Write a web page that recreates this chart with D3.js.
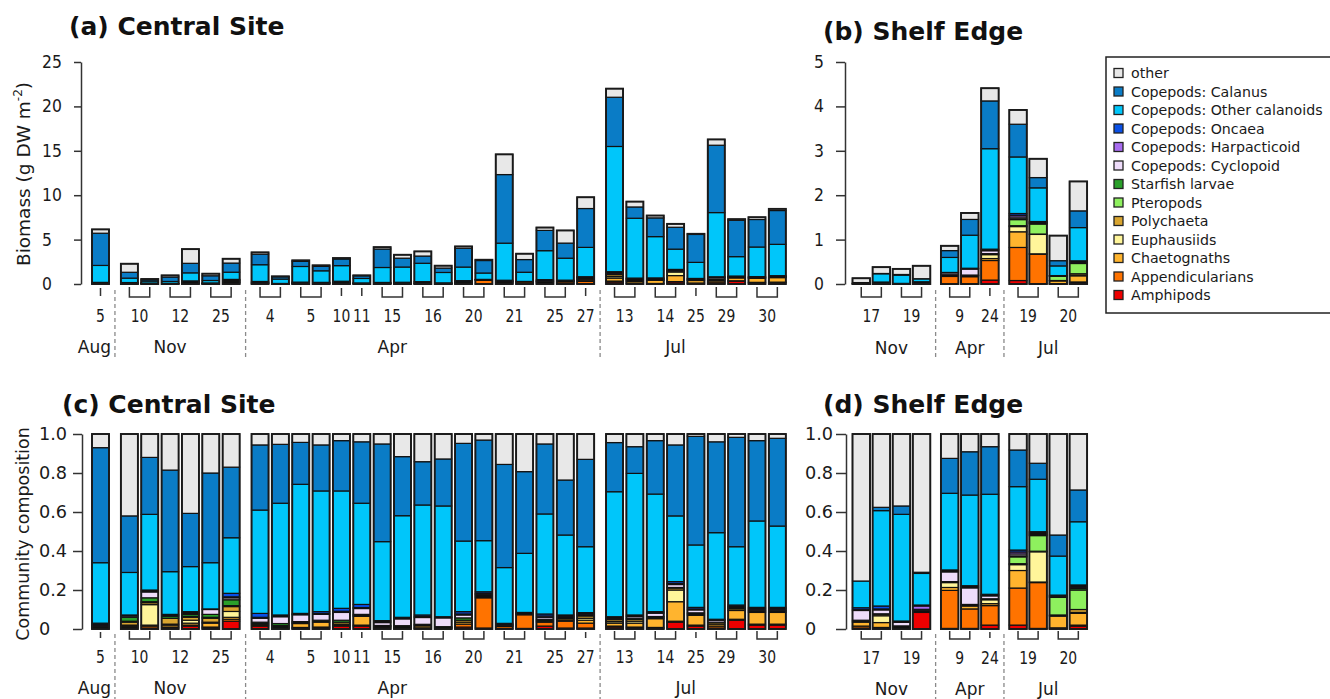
<!DOCTYPE html>
<html><head><meta charset="utf-8">
<script src="https://cdn.jsdelivr.net/npm/d3@7"></script>
<style>body{margin:0;background:#fff;} svg{display:block;font-family:"DejaVu Sans",Verdana,sans-serif;}</style>
</head><body><svg id="chart" width="1330" height="699"></svg>
<script>
// ---------------- DATA ----------------
const categories = ["Amphipods","Appendicularians","Chaetognaths","Euphausiids","Polychaeta","Pteropods","Starfish larvae","Copepods: Cyclopoid","Copepods: Harpacticoid","Copepods: Oncaea","Copepods: Other calanoids","Copepods: Calanus","other"];
const catColors = ["#ee0000","#ff7300","#ffb42e","#fff59a","#d9a530","#8ef05e","#2aa02a","#eedcfa","#a86cf0","#0a50e6","#00c6fa","#0a7cc6","#e8e8e8"];

// Central site samples (bars)
const centralMonth = ["Aug","Nov","Nov","Nov","Nov","Nov","Nov","Apr","Apr","Apr","Apr","Apr","Apr","Apr","Apr","Apr","Apr","Apr","Apr","Apr","Apr","Apr","Apr","Apr","Jul","Jul","Jul","Jul","Jul","Jul","Jul","Jul","Jul"];
const centralDay = ["5","10","10","12","12","25","25","4","4","5","5","10","11","15","15","16","16","20","20","21","21","25","25","27","13","13","14","14","25","29","29","30","30"];
const centralTotal = [6.15,2.28,0.56,0.97,3.93,1.16,2.84,3.56,0.86,2.66,2.1,2.92,0.97,4.15,3.29,3.67,2.06,4.23,2.73,14.6,3.41,6.36,6.03,9.77,22.0,9.28,7.71,6.77,5.65,16.28,7.3,7.52,8.46];
// proportions (community composition)
const cAmphipods = [.005,.005,.005,.005,.015,.005,.04,.015,.003,.003,.005,.015,.015,.005,.003,.003,.002,.01,.005,.003,.003,.015,.005,.005,.01,.005,.003,.035,.015,.005,.045,.02,.02];
const cAppendicularians = [0,.005,.01,.005,.005,.005,.01,.005,.005,.005,.005,.005,.005,.005,.005,.003,.003,.015,.155,.01,.07,.02,.035,.025,.005,.005,.005,.005,.005,.01,.005,.005,.005];
const cChaetognaths = [0,.005,.005,.01,.01,.02,.01,.005,.005,.02,.025,.005,.045,.003,.003,.01,.003,.01,.005,.003,.003,.005,.005,.015,.015,.02,.045,.1,.05,.01,.045,.06,.06];
const cEuphausiids = [0,.005,.105,.005,.015,.005,.03,0,0,0,0,0,0,0,0,0,0,0,.005,0,0,0,0,.01,.008,.01,.003,.06,.005,0,.003,.003,.003];
const cPolychaeta = [.005,.015,.01,.03,.015,.02,.025,.005,.005,.005,.005,.01,.005,.003,.003,.005,.002,.01,.005,.003,.002,.005,.008,.012,.01,.01,.005,.01,.005,.008,.008,.005,.005];
const cPteropods = [0,.005,.005,0,.005,.005,.005,0,0,0,0,0,0,0,0,0,0,0,0,0,0,0,0,0,0,0,0,0,0,0,0,0,0];
const cStarfish = [.005,.02,.02,.01,.01,.015,.03,.005,.01,.005,.005,.01,.005,.002,.003,.003,.002,.012,.003,0,0,.005,.005,.005,.003,.003,.003,.003,.003,.002,.003,.003,.003];
const cCyclopoid = [.005,.007,.03,.005,.005,.025,.01,.02,.035,.035,.03,.04,.03,.015,.035,.035,.045,.015,.003,.003,.002,.01,.004,.004,.004,.01,.017,.015,.015,.01,.004,.006,.006];
const cHarpacticoid = [.005,0,.005,0,.004,0,.005,.005,.004,.002,.004,.006,.005,.005,.003,.005,.003,.005,.002,.002,.002,.007,.004,.003,.004,.004,.003,.005,.005,.002,.003,.004,.004];
const cOncaea = [.005,.005,.005,.005,.005,.003,.018,.02,.005,.005,.01,.015,.016,.005,.005,.008,.003,.012,.008,.005,.003,.01,.006,.005,.004,.005,.005,.01,.008,.003,.007,.005,.005];
const cOtherCalanoids = [.31,.218,.388,.219,.231,.237,.285,.53,.573,.662,.619,.602,.519,.405,.521,.564,.568,.362,.262,.286,.303,.513,.41,.338,.641,.726,.603,.337,.32,.444,.299,.443,.417];
const cCalanus = [.59,.29,.292,.521,.273,.46,.362,.334,.302,.215,.236,.258,.315,.501,.303,.222,.241,.501,.516,.529,.419,.359,.282,.448,.252,.137,.274,.364,.557,.466,.561,.412,.45];
const cOther = [.07,.42,.12,.185,.407,.2,.17,.056,.053,.043,.056,.034,.04,.051,.116,.142,.128,.048,.031,.156,.193,.051,.236,.13,.044,.065,.034,.056,.012,.04,.017,.034,.022];

// Shelf edge samples
const shelfMonth = ["Nov","Nov","Nov","Nov","Apr","Apr","Apr","Jul","Jul","Jul","Jul"];
const shelfDay = ["17","17","19","19","9","9","24","19","19","20","20"];
const shelfTotal = [0.13,0.38,0.34,0.41,0.86,1.6,4.41,3.92,2.82,1.09,2.31];
const sAmphipods = [.005,.003,.003,.085,.003,.003,.02,.02,.003,.003,.015];
const sAppendicularians = [.01,.005,.003,.005,.195,.1,.1,.19,.235,.003,.005];
const sChaetognaths = [.02,.025,.005,.003,.015,.015,.01,.09,.003,.06,.06];
const sEuphausiids = [.005,.035,0,0,.025,.003,.02,.03,.155,.003,.005];
const sPolychaeta = [.005,.008,.005,.003,.005,.005,.005,.005,.003,.003,.015];
const sPteropods = [0,0,0,0,0,0,0,.035,.08,.09,.1];
const sStarfish = [0,.002,0,0,0,0,0,.005,.005,.003,.008];
const sCyclopoid = [.05,.02,.018,.005,.05,.085,.015,.01,.005,.003,.006];
const sHarpacticoid = [.004,.005,.004,.017,.005,.005,.004,.01,.005,.003,.006];
const sOncaea = [.01,.015,.003,.005,.005,.006,.004,.01,.005,.003,.006];
const sOtherCalanoids = [.137,.489,.547,.162,.393,.465,.513,.325,.269,.2,.324];
const sCalanus = [0,.017,.043,.006,.179,.222,.244,.188,.082,.108,.163];
const sOther = [.754,.376,.369,.709,.125,.091,.065,.082,.15,.518,.287];

// tick values / labels
const ticksCentralBiomass = [0,5,10,15,20,25];
const ticksShelfBiomass = [0,1,2,3,4,5];
const ticksComposition = [0,0.2,0.4,0.6,0.8,1.0];
const ticksCompositionLabels = ["0","0.2","0.4","0.6","0.8","1.0"];
// month label anchors (in bar-index units)
const centralMonthAnchorTop = [-0.3,3,13.5,27];
const centralMonthAnchorBottom = [-0.3,3,13.5,27.5];
const shelfMonthAnchor = [1.5,5,8.5];

const centralProps = [cAmphipods,cAppendicularians,cChaetognaths,cEuphausiids,cPolychaeta,cPteropods,cStarfish,cCyclopoid,cHarpacticoid,cOncaea,cOtherCalanoids,cCalanus,cOther];
const shelfProps = [sAmphipods,sAppendicularians,sChaetognaths,sEuphausiids,sPolychaeta,sPteropods,sStarfish,sCyclopoid,sHarpacticoid,sOncaea,sOtherCalanoids,sCalanus,sOther];

// ---------------- DRAW ----------------
const FONT = '"DejaVu Sans",Verdana,sans-serif';
const svg = d3.select("#chart");
const TXT = "#1a1a1a";
const FS = 17;      // regular label size
const DIGIT_SX = 0.82;

function panel(cfg){
  const g = svg.append("g");
  const y = d3.scaleLinear().domain(cfg.yDomain).range([cfg.y0, cfg.y1]);
  const seasons = [...new Set(cfg.month)];
  const sIdx = cfg.month.map(m => seasons.indexOf(m));
  const n = cfg.month.length;
  const u = d3.range(n).map(i => i + sIdx[i]*cfg.gapU);
  const x = d3.scaleLinear().domain([0,1]).range([cfg.xFirst, cfg.xFirst + cfg.step]);
  const left = i => x(u[i]);
  const cx = i => left(i) + cfg.barW/2;
  const anchorX = a => { const s = sIdx[Math.max(0, Math.min(n-1, Math.round(a)))]; return x(a + s*cfg.gapU) + cfg.barW/2; };

  // bars
  for (let i=0;i<n;i++){
    const bg = g.append("g");
    let acc = 0;
    categories.forEach((c,k) => {
      const v = cfg.value(k,i);
      if (v > 0){
        bg.append("rect").attr("x", left(i)).attr("width", cfg.barW)
          .attr("y", y(acc+v)).attr("height", y(acc) - y(acc+v))
          .attr("fill", catColors[k]).attr("stroke","#111").attr("stroke-width",1.2);
      }
      acc += v;
    });
    bg.append("rect").attr("x", left(i)).attr("width", cfg.barW)
      .attr("y", y(acc)).attr("height", y(0)-y(acc))
      .attr("fill","none").attr("stroke","#1a1a1a").attr("stroke-width",1.9);
  }

  // y axis
  const axis = d3.axisLeft(y).tickValues(cfg.ticks).tickFormat((d,i)=>cfg.tickLabels ? cfg.tickLabels[i] : d)
    .tickSize(cfg.tickLen).tickSizeOuter(0);
  const ag = g.append("g").attr("transform",`translate(${cfg.axisX},0)`).call(axis)
    .attr("font-size",FS).attr("font-family",FONT);
  ag.select(".domain").attr("stroke","#333").attr("stroke-width",1.5);
  ag.selectAll(".tick line").attr("stroke","#333").attr("stroke-width",1.5);
  ag.selectAll(".tick text").attr("x", 0).attr("text-anchor","start").attr("fill",TXT)
    .attr("transform", `translate(${cfg.labelX - cfg.axisX},0) scale(${cfg.tickSX},1)`);

  // groups (brackets + day labels)
  const groups = [];
  for (let i=0;i<n;i++){
    const last = groups[groups.length-1];
    if (last && cfg.month[last.start]===cfg.month[i] && cfg.day[last.start]===cfg.day[i] && last.end===i-1) last.end = i;
    else groups.push({start:i,end:i});
  }
  groups.forEach(gr => {
    const x1 = cx(gr.start), x2 = cx(gr.end);
    const p = gr.start===gr.end
      ? `M${x1},${cfg.brY0+1}V${cfg.brY1-1}`
      : `M${x1},${cfg.brY0}V${cfg.brY1}H${x2}V${cfg.brY0}`;
    g.append("path").attr("d",p).attr("fill","none").attr("stroke","#333").attr("stroke-width",1.5);
    g.append("text").attr("transform",`translate(${(x1+x2)/2},${cfg.dayY}) scale(${DIGIT_SX},1)`)
      .attr("text-anchor","middle").attr("font-size",FS).attr("fill",TXT).text(cfg.day[gr.start]);
  });

  // month labels
  seasons.forEach((m,s) => {
    g.append("text").attr("x", anchorX(cfg.monthAnchor[s])).attr("y",cfg.monthY).attr("text-anchor","middle")
      .attr("font-size",FS).attr("fill",TXT).text(m);
  });
  // dashed separators
  for (let s=0;s<seasons.length-1;s++){
    const lastI = d3.max(d3.range(n).filter(i=>sIdx[i]===s));
    const xs = (left(lastI)+cfg.barW + left(lastI+1))/2;
    g.append("line").attr("x1",xs).attr("x2",xs).attr("y1",cfg.dashY0).attr("y2",cfg.dashY1)
      .attr("stroke","#8a8a8a").attr("stroke-width",1.3).attr("stroke-dasharray","4,3");
  }
  // title
  g.append("text").attr("x",cfg.titleX).attr("y",cfg.titleY).attr("font-size",25).attr("font-weight","bold")
    .attr("fill","#111").text(cfg.title);
}

panel({title:"(a) Central Site", titleX:69, titleY:35, month:centralMonth, day:centralDay,
  value:(k,i)=>centralProps[k][i]*centralTotal[i], yDomain:[0,25], y0:284, y1:62,
  ticks:ticksCentralBiomass, axisX:81, labelX:42, tickLen:7, tickSX:0.92,
  xFirst:92, step:20.35, gapU:0.42, barW:17, brY0:287, brY1:297, dayY:322, monthY:353,
  monthAnchor:centralMonthAnchorTop, dashY0:290, dashY1:358});

panel({title:"(b) Shelf Edge", titleX:823, titleY:40, month:shelfMonth, day:shelfDay,
  value:(k,i)=>shelfProps[k][i]*shelfTotal[i], yDomain:[0,5], y0:284, y1:62,
  ticks:ticksShelfBiomass, axisX:845, labelX:814, tickLen:9, tickSX:0.92,
  xFirst:852.5, step:20.1, gapU:0.4, barW:17.5, brY0:287, brY1:297, dayY:322, monthY:354,
  monthAnchor:shelfMonthAnchor, dashY0:290, dashY1:358});

panel({title:"(c) Central Site", titleX:62, titleY:413, month:centralMonth, day:centralDay,
  value:(k,i)=>centralProps[k][i], yDomain:[0,1], y0:629, y1:434,
  ticks:ticksComposition, tickLabels:ticksCompositionLabels, axisX:82, labelX:39, tickLen:9, tickSX:1.04,
  xFirst:92, step:20.35, gapU:0.42, barW:17, brY0:631, brY1:639, dayY:663, monthY:694,
  monthAnchor:centralMonthAnchorBottom, dashY0:634, dashY1:699});

panel({title:"(d) Shelf Edge", titleX:823, titleY:413, month:shelfMonth, day:shelfDay,
  value:(k,i)=>shelfProps[k][i], yDomain:[0,1], y0:629, y1:434,
  ticks:ticksComposition, tickLabels:ticksCompositionLabels, axisX:846, labelX:805, tickLen:10, tickSX:1.04,
  xFirst:852.5, step:20.1, gapU:0.4, barW:17.5, brY0:631, brY1:639, dayY:664, monthY:695,
  monthAnchor:shelfMonthAnchor, dashY0:634, dashY1:699});

// y axis titles
const yt1 = svg.append("text").attr("transform","translate(30,174) rotate(-90)").attr("text-anchor","middle")
  .attr("font-size",18.5).attr("fill",TXT);
yt1.append("tspan").text("Biomass (g DW m");
yt1.append("tspan").attr("font-size",12).attr("dy",-8).text("-2");
yt1.append("tspan").attr("dy",8).text(")");
svg.append("text").attr("transform","translate(29,534) rotate(-90)").attr("text-anchor","middle")
  .attr("font-size",17.5).attr("fill",TXT).text("Community composition");

// legend
const lg = svg.append("g");
lg.append("rect").attr("x",1106).attr("y",57).attr("width",240).attr("height",256)
  .attr("fill","#fff").attr("stroke","#222").attr("stroke-width",1.5);
const legendOrder = d3.range(categories.length).reverse();
legendOrder.forEach((k,j) => {
  const yy = 73 + j*18.5;
  lg.append("rect").attr("x",1114).attr("y",yy-4.5).attr("width",9).attr("height",9)
    .attr("fill",catColors[k]).attr("stroke","#222").attr("stroke-width",1.3);
  lg.append("text").attr("x",1131).attr("y",yy).attr("dy","0.36em").attr("font-size",14.2)
    .attr("fill",TXT).text(categories[k]);
});
</script></body></html>
